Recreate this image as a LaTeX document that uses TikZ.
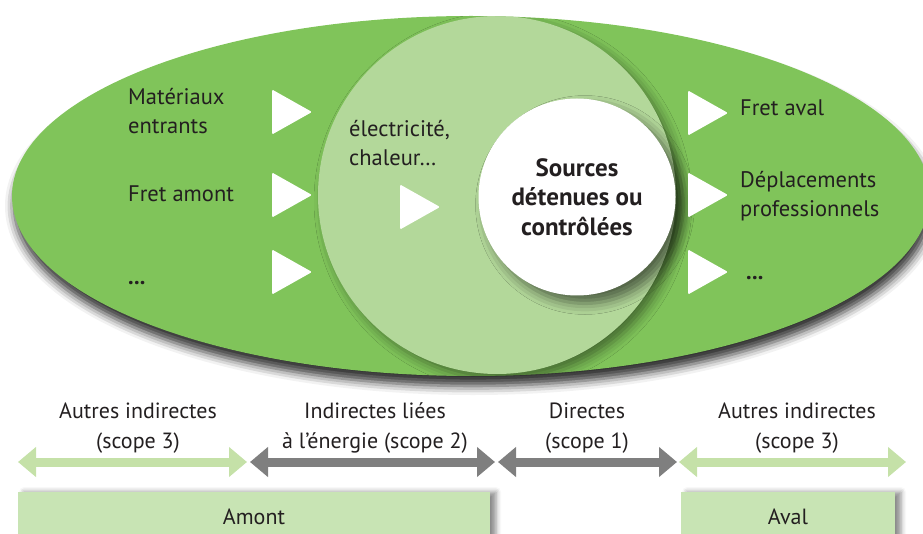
\documentclass[tikz,border=0pt]{standalone}
\usepackage{fontspec}
\setmainfont{PT Sans}
\usetikzlibrary{arrows.meta,shadows.blur}
\definecolor{leafgreen}{HTML}{80C45A}
\definecolor{palegreen}{HTML}{B3D89A}
\definecolor{boxgreen}{HTML}{C8E4B4}
\definecolor{arrowgreen}{HTML}{C5E1A8}
\definecolor{arrowgrey}{HTML}{7F7F7F}
\definecolor{ink}{HTML}{231F20}
\tikzset{
  itemlbl/.style={inner sep=0pt, text=ink, font=\fontsize{22.5}{28.5}\selectfont, align=left, anchor=west},
  scopelbl/.style={inner sep=0pt, text=ink, font=\fontsize{22}{30}\selectfont, align=center},
  flow/.pic={\fill[white, rounded corners=1.2pt] (-20,-22.5) -- (20,0) -- (-20,22.5) -- cycle;},
  scopespan/.style={line width=9pt, {Triangle[length=18pt,width=29pt]}-{Triangle[length=18pt,width=29pt]}},
  phase/.style={fill=boxgreen, inner sep=0pt, minimum height=50pt, text=ink,
    font=\fontsize{22}{24}\selectfont,
    blur shadow={shadow xshift=6pt, shadow yshift=0pt, shadow blur radius=5pt, shadow opacity=45}},
}
\begin{document}
\begin{tikzpicture}[x=1pt, y=-1pt]
\useasboundingbox (0,0) rectangle (923,534);

% outer ellipse: all emission sources
\fill[leafgreen, blur shadow={shadow xshift=2pt, shadow yshift=-10pt, shadow blur radius=9pt, shadow opacity=80}]
  (471,196) ellipse [x radius=459pt, y radius=180pt];

% energy circle, its shadow kept inside the ellipse
\begin{scope}
  \clip (471,196) ellipse [x radius=459pt, y radius=180pt];
  \node[circle, fill=palegreen, inner sep=0pt, minimum size=358pt,
    blur shadow={shadow xshift=6pt, shadow yshift=-6pt, shadow blur radius=10pt, shadow opacity=45}]
    (energy) at (497,195) {};
\end{scope}

% direct sources
\node[circle, fill=white, inner sep=0pt, minimum size=197pt, text=ink, align=center,
  font=\bfseries\fontsize{25}{29.5}\selectfont,
  blur shadow={shadow xshift=8pt, shadow yshift=-8pt, shadow blur radius=11pt, shadow opacity=55}]
  (core) at (577,197) {Sources\\détenues ou\\contrôlées};

% flow markers
\pic at (292,112) {flow};
\pic at (292,195) {flow};
\pic at (292,272) {flow};
\pic at (420,207) {flow};
\pic at (708,113) {flow};
\pic at (708,195) {flow};
\pic at (708,272) {flow};

% upstream items
\node[itemlbl] (mat) at (128,111) {Matériaux\\entrants};
\node[itemlbl] (fretam) at (128,194) {Fret amont};
\node[itemlbl, anchor=base west, font=\bfseries\fontsize{22.5}{28.5}\selectfont] (upmore) at (128,285) {...};
\node[itemlbl] (elec) at (349,143) {électricité,\\chaleur…};

% downstream items
\node[itemlbl] (fretav) at (740,108) {Fret aval};
\node[itemlbl] (depl) at (740,196) {Déplacements\\professionnels};
\node[itemlbl, anchor=base west, font=\bfseries\fontsize{22.5}{28.5}\selectfont] (downmore) at (746,280) {...};

% scope labels
\node[scopelbl] (s3a) at (138,428) {Autres indirectes\\(scope 3)};
\node[scopelbl] (s2) at (375,428) {Indirectes liées\\à l’énergie (scope 2)};
\node[scopelbl] (s1) at (587,428) {Directes\\(scope 1)};
\node[scopelbl] (s3b) at (797,428) {Autres indirectes\\(scope 3)};

% scope spans
\coordinate (p0) at (18,462);
\coordinate (p1) at (247,462);
\coordinate (p2) at (250,462);
\coordinate (p3) at (495,462);
\coordinate (p4) at (498,462);
\coordinate (p5) at (677,462);
\coordinate (p6) at (679,462);
\coordinate (p7) at (906,462);
\draw[scopespan, arrowgreen] (p0) -- (p1);
\draw[scopespan, arrowgrey] (p2) -- (p3);
\draw[scopespan, arrowgrey] (p4) -- (p5);
\draw[scopespan, arrowgreen] (p6) -- (p7);

% value chain phases
\node[phase, minimum width=472pt] (amont) at (254,517) {Amont};
\node[phase, minimum width=214pt] (aval) at (788,517) {Aval};
\end{tikzpicture}
\end{document}
